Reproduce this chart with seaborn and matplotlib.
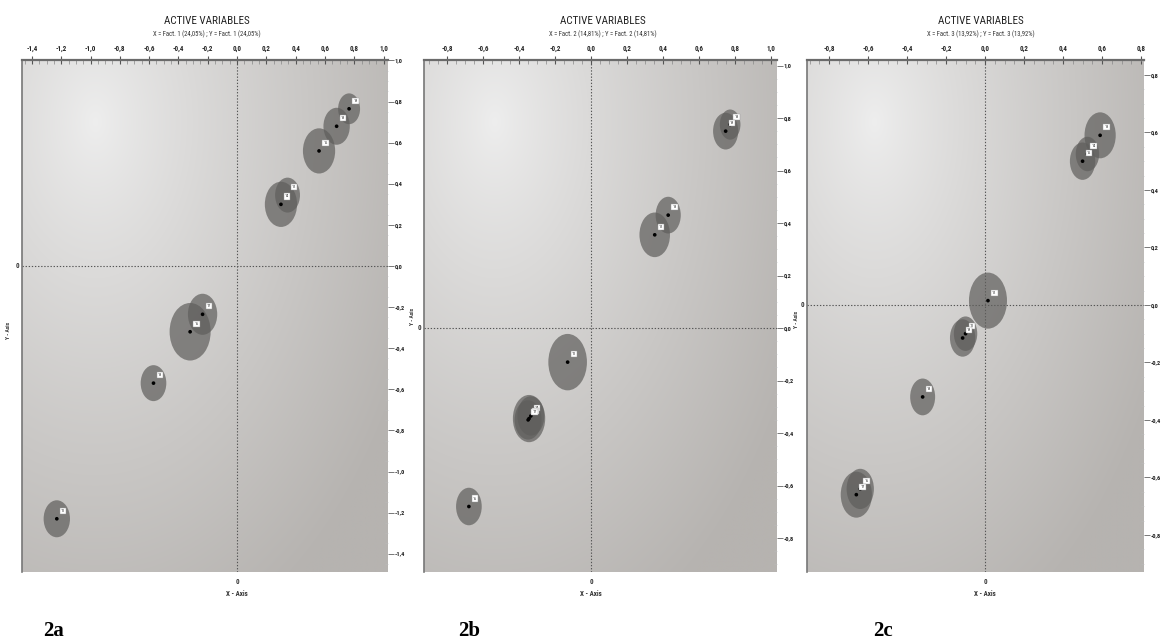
import numpy as np
import pandas as pd
import matplotlib
matplotlib.use("Agg")
import matplotlib.pyplot as plt
import matplotlib.transforms as mtransforms
from matplotlib.patches import Ellipse
from matplotlib.ticker import FuncFormatter, AutoMinorLocator
from matplotlib import font_manager
import seaborn as sns

sns.set_theme(style="white")

available = {f.name for f in font_manager.fontManager.ttflist}
narrow = next((n for n in ["Liberation Sans Narrow", "DejaVu Sans Condensed", "Roboto Condensed"]
               if n in available), "Liberation Sans")
plt.rcParams["font.family"] = [narrow, "DejaVu Sans"]

# ---- loadings (same factor on both axes) ----
fact1_ids = ["19", "18", "15", "12", "14", "17", "16", "13", "11"]
fact1_load = [0.765, 0.68, 0.56, 0.345, 0.30, -0.235, -0.32, -0.57, -1.23]
fact1_size = [0.15, 0.18, 0.22, 0.17, 0.22, 0.20, 0.28, 0.175, 0.18]

fact2_ids = ["18", "19", "13", "12", "11", "14", "15", "17", "16"]
fact2_load = [0.775, 0.75, 0.43, 0.355, -0.13, -0.335, -0.345, -0.35, -0.68]
fact2_size = [0.115, 0.14, 0.14, 0.17, 0.215, 0.15, 0.18, 0.15, 0.143]

fact3_ids = ["13", "14", "15", "12", "11", "19", "18", "16", "17"]
fact3_load = [0.59, 0.525, 0.50, 0.015, -0.10, -0.115, -0.32, -0.64, -0.66]
fact3_size = [0.16, 0.12, 0.13, 0.195, 0.12, 0.13, 0.128, 0.14, 0.16]

titles = ["X = Fact. 1 (24,05%) ; Y = Fact. 1 (24,05%)",
          "X = Fact. 2 (14,81%) ; Y = Fact. 2 (14,81%)",
          "X = Fact. 3 (13,92%) ; Y = Fact. 3 (13,92%)"]
panel_tags = ["2a", "2b", "2c"]

W, H = 1162, 644
fig = plt.figure(figsize=(W / 100, H / 100), dpi=100)
fig.patch.set_facecolor("white")

# axes boxes in pixels: left, right, top, bottom
boxes = [(22, 388, 60, 572), (424, 777, 60, 572), (807, 1144, 60, 572)]
xlims = [(-1.4676, 1.0307), (-0.930, 1.036), (-0.913, 0.815)]
ylims = [(-1.489, 1.0024), (-0.9295, 1.021), (-0.929, 0.852)]
xticks = [np.arange(-1.4, 1.01, 0.2), np.arange(-0.8, 1.01, 0.2), np.arange(-0.8, 0.81, 0.2)]
yticks = xticks
title_x = [207, 603, 981]
tag_x = [43, 458, 873]
# pixel anchors for the rotated axis name
yname_px = [(8, 330), (412, 316), (797, 319)]

comma = FuncFormatter(lambda v, p: f"{v:.1f}".replace(".", ",").replace("-0,0", "0,0"))

# radial shading of the plotting area (row 0 = top)
gy, gx = np.mgrid[0:1:400j, 0:1:400j]


def shade(ax):
    d = np.sqrt(((gx - 0.2) / 1.0) ** 2 + ((gy - 0.12) / 1.15) ** 2)
    t = np.clip(d / 0.95, 0, 1) ** 0.85
    r = 238 - 56 * t
    g = 238 - 59 * t
    b = 238 - 62 * t
    img = np.dstack([r, g, b]) / 255.0
    ax.imshow(img, extent=(0, 1, 0, 1), origin="upper", transform=ax.transAxes,
              aspect="auto", zorder=0, interpolation="bilinear")


datasets = [(fact1_ids, fact1_load, fact1_size),
            (fact2_ids, fact2_load, fact2_size),
            (fact3_ids, fact3_load, fact3_size)]

for i, (ids, load, size) in enumerate(datasets):
    l, r, t, b = boxes[i]
    ax = fig.add_axes([l / W, 1 - b / H, (r - l) / W, (b - t) / H])
    shade(ax)
    df = pd.DataFrame({"x": load, "y": load, "size": size, "id": ids})

    for _, row in df.iterrows():
        ax.add_patch(Ellipse((row.x, row.y), row["size"], row["size"],
                             facecolor="#5f5e5c", edgecolor="none", alpha=0.7, zorder=2))
    sns.scatterplot(data=df, x="x", y="y", ax=ax, color="black", s=7,
                    edgecolor="none", zorder=4, legend=False)
    for _, row in df.iterrows():
        ax.annotate(row.id, (row.x, row.y), xytext=(3, 5), textcoords="offset points",
                    fontsize=3.2, color="#333333", zorder=5,
                    bbox=dict(boxstyle="square,pad=0.25", fc="white", ec="#999999", lw=0.3))

    ax.axhline(0, color="#555555", lw=0.8, ls=(0, (1.2, 1.6)), zorder=1)
    ax.axvline(0, color="#555555", lw=0.8, ls=(0, (1.2, 1.6)), zorder=1)

    ax.set_xlim(*xlims[i])
    ax.set_ylim(*ylims[i])
    ax.set_xlabel("")
    ax.set_ylabel("")

    ax.xaxis.tick_top()
    ax.set_xticks(xticks[i])
    ax.xaxis.set_minor_locator(AutoMinorLocator(4))
    ax.xaxis.set_major_formatter(comma)
    ax.tick_params(axis="x", which="major", direction="inout", length=6, width=0.8,
                   color="#555555", labelsize=5, pad=2, labelcolor="#222222")
    ax.tick_params(axis="x", which="minor", direction="in", length=3, width=0.5,
                   color="#888888", top=True)

    ax.yaxis.tick_right()
    ax.set_yticks(yticks[i])
    ax.yaxis.set_minor_locator(AutoMinorLocator(4))
    ax.yaxis.set_major_formatter(comma)
    ax.tick_params(axis="y", which="major", direction="out", length=4, width=0.7,
                   color="#777777", labelsize=4.6, pad=0.8, labelcolor="#222222")
    ax.tick_params(axis="y", which="minor", direction="in", length=2, width=0.4,
                   color="#bbbbbb", right=True)
    for lab in ax.get_xticklabels() + ax.get_yticklabels():
        lab.set_fontweight("bold")

    for side in ["right", "bottom"]:
        ax.spines[side].set_visible(False)
    ax.spines["top"].set_color("#6b6b6b")
    ax.spines["top"].set_linewidth(1.6)
    ax.spines["left"].set_color("#777777")
    ax.spines["left"].set_linewidth(1.2)

    # zero markers and axis names outside the frame
    tx = mtransforms.blended_transform_factory(ax.transData, ax.transAxes)
    ty = mtransforms.blended_transform_factory(ax.transAxes, ax.transData)
    ax.text(0, -0.012, "0", transform=tx, ha="center", va="top", fontsize=5,
            fontweight="bold", color="#333333")
    ax.text(0, -0.035, "X - Axis", transform=tx, ha="center", va="top", fontsize=5,
            fontweight="bold", color="#333333")
    ax.text(-0.008, 0, "0", transform=ty, ha="right", va="center", fontsize=5,
            fontweight="bold", color="#333333")
    yx, yy = yname_px[i]
    fig.text(yx / W, 1 - yy / H, "Y - Axis", ha="center", va="center",
             rotation=90, fontsize=4, fontweight="bold", color="#333333")

    fig.text(title_x[i] / W, 1 - 21 / H, "ACTIVE VARIABLES", ha="center", va="center",
             fontsize=8, color="#222222")
    fig.text(title_x[i] / W, 1 - 34 / H, titles[i], ha="center", va="center",
             fontsize=4.8, color="#333333")
    fig.text(tag_x[i] / W, 1 - 631 / H, panel_tags[i], ha="left", va="center",
             fontsize=15, fontweight="bold", family="Liberation Serif", color="black")

fig.savefig("out.png", dpi=100, facecolor="white")
